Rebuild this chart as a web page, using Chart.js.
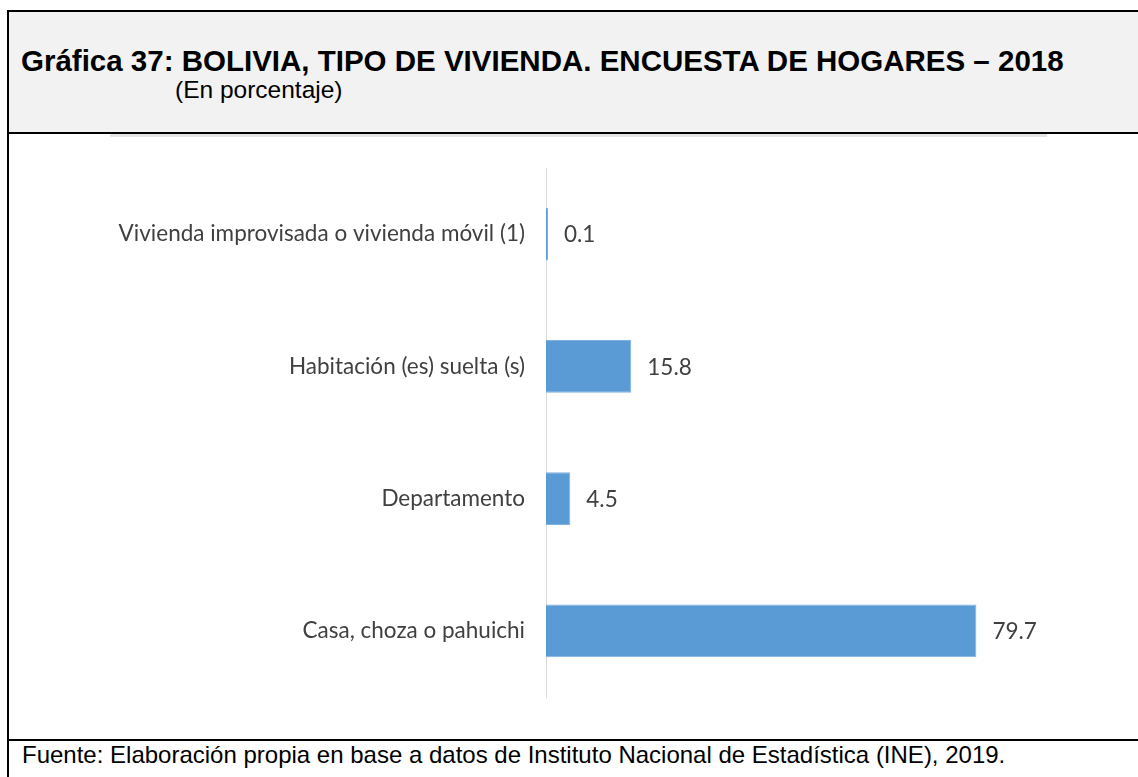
<!DOCTYPE html>
<html lang="es">
<head>
<meta charset="utf-8">
<title>Tipo de vivienda 2018</title>
<script src="https://cdn.jsdelivr.net/npm/chart.js@4"></script>
<style>
  html, body { margin: 0; padding: 0; background: #fff; }
  body { width: 1138px; height: 777px; position: relative; overflow: hidden; font-family: "Liberation Sans", Arial, sans-serif; }
  .frame { position: absolute; left: 7px; top: 10px; width: 1200px; height: 800px; border-left: 2px solid #000; border-top: 2px solid #000; }
  .header { position: absolute; left: 9px; top: 12px; width: 1200px; height: 120px; background: #f2f2f2; border-bottom: 2px solid #000; }
  .shade { position: absolute; left: 110px; top: 134px; width: 937px; height: 3px; background: #e4e4e4; }
  .title { position: absolute; left: 21px; top: 44px; font-weight: bold; font-size: 29.5px; color: #000; white-space: nowrap; }
  .subtitle { position: absolute; left: 175px; top: 76px; font-size: 24.5px; color: #000; white-space: nowrap; }
  .foot-line { position: absolute; left: 9px; top: 739px; width: 1200px; height: 2px; background: #000; }
  .source { position: absolute; left: 22px; top: 741px; font-size: 24px; color: #000; white-space: nowrap; }
  .chart-box { position: absolute; left: 0; top: 150px; width: 1138px; height: 560px; }
</style>
</head>
<body>
<div class="frame"></div>
<div class="header"></div>
<div class="shade"></div>
<div class="title">Gráfica 37: BOLIVIA, TIPO DE VIVIENDA. ENCUESTA DE HOGARES – 2018</div>
<div class="subtitle">(En porcentaje)</div>
<div class="chart-box"><canvas id="viviendaChart"></canvas></div>
<div class="foot-line"></div>
<div class="source">Fuente: Elaboración propia en base a datos de Instituto Nacional de Estadística (INE), 2019.</div>

<script>
const categories = [
    'Vivienda improvisada o vivienda móvil (1)',
    'Habitación (es) suelta (s)',
    'Departamento',
    'Casa, choza o pahuichi'
];
const percentages = [0.1, 15.8, 4.5, 79.7];

const labelFont = { family: 'Lato, "Open Sans", sans-serif', size: 22.5 };
const textColor = '#404040';

// writes the value next to the end of each bar
const valueLabels = {
    id: 'valueLabels',
    afterDatasetsDraw(chart) {
        const ctx = chart.ctx;
        const meta = chart.getDatasetMeta(0);
        ctx.save();
        ctx.font = `${labelFont.size}px ${labelFont.family}`;
        ctx.fillStyle = textColor;
        ctx.textAlign = 'left';
        ctx.textBaseline = 'middle';
        meta.data.forEach((bar, i) => {
            ctx.fillText(percentages[i].toFixed(1), bar.x + 16, bar.y + 1);
        });
        ctx.restore();
    }
};

const ctx = document.getElementById('viviendaChart').getContext('2d');
new Chart(ctx, {
    type: 'bar',
    data: {
        labels: categories,
        datasets: [{
            data: percentages,
            backgroundColor: '#5b9bd5',
            borderColor: '#7fb0de',
            borderWidth: 1,
            minBarLength: 2,
            categoryPercentage: 1,
            barPercentage: 0.4
        }]
    },
    options: {
        indexAxis: 'y',
        responsive: true,
        maintainAspectRatio: false,
        animation: false,
        layout: {
            padding: { top: 18, bottom: 13, right: 106, left: 0 }
        },
        plugins: {
            legend: { display: false },
            tooltip: { enabled: false }
        },
        scales: {
            x: {
                display: false,
                min: 0,
                max: 90
            },
            y: {
                afterFit: function(scale) {
                    // fixed label column, no extra room above/below the bars
                    scale.width = 546;
                    scale.paddingTop = 0;
                    scale.paddingBottom = 0;
                },
                grid: { display: false, drawTicks: false },
                border: { display: true, color: '#d9d9d9', width: 1 },
                ticks: {
                    color: textColor,
                    font: labelFont,
                    padding: 21
                }
            }
        }
    },
    plugins: [valueLabels]
});
</script>
</body>
</html>
